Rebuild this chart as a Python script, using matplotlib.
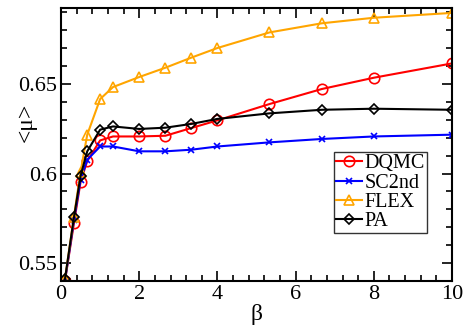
import numpy as np
import matplotlib.pyplot as plt
from matplotlib.ticker import MultipleLocator, FixedLocator, FixedFormatter

plt.rcParams['font.family'] = ['Liberation Serif', 'DejaVu Serif']
plt.rcParams['mathtext.fontset'] = 'stix'

# Data
beta = [0.1, 0.33, 0.5, 0.67, 1.0, 1.33, 2.0, 2.67, 3.33, 4.0, 5.33, 6.67, 8.0, 10.0]
dqmc = [0.540, 0.5723, 0.5954, 0.607, 0.6185, 0.6207, 0.6207, 0.6211, 0.6254, 0.6297,
        0.6388, 0.6472, 0.6535, 0.6615]
sc2nd = [0.540, 0.574, 0.5965, 0.6077, 0.6151, 0.6151, 0.6124, 0.6124, 0.6133, 0.6151,
         0.6174, 0.6193, 0.6207, 0.6217]
flex = [0.541, 0.576, 0.601, 0.6217, 0.6416, 0.6483, 0.6539, 0.6591, 0.6647, 0.6701,
        0.6788, 0.6839, 0.6870, 0.6897]
pa = [0.541, 0.5755, 0.5988, 0.6124, 0.6245, 0.6263, 0.6249, 0.6256, 0.6277, 0.6305,
      0.6336, 0.6356, 0.6362, 0.6356]

fig = plt.figure(figsize=(4.66, 3.29), dpi=100)
ax = fig.add_axes([0.131, 0.146, 0.839, 0.830])

ax.plot(beta, dqmc, '-o', color='red', mfc='none', ms=7.5, mew=1.2, lw=1.5, label='DQMC')
ax.plot(beta, sc2nd, '-x', color='blue', ms=5, mew=1.2, lw=1.5, label='SC2nd')
ax.plot(beta, flex, '-^', color='orange', mfc='none', ms=7, mew=1.2, lw=1.5, label='FLEX')
ax.plot(beta, pa, '-D', color='black', mfc='none', ms=5, mew=1.2, lw=1.5, label='PA')

ax.set_xlim(0, 10)
ax.set_ylim(0.54, 0.6925)
ax.xaxis.set_major_locator(MultipleLocator(2))
ax.xaxis.set_minor_locator(MultipleLocator(0.4))
ax.yaxis.set_major_locator(FixedLocator([0.55, 0.6, 0.65]))
ax.yaxis.set_major_formatter(FixedFormatter(['0.55', '0.6', '0.65']))
ax.yaxis.set_minor_locator(MultipleLocator(0.01))
ax.tick_params(which='both', direction='in', top=True, right=True, labelsize=16, width=1.2)
ax.tick_params(which='major', length=7, pad=3)
ax.tick_params(which='minor', length=4)
for s in ax.spines.values():
    s.set_linewidth(1.5)

ax.set_xlabel('β', fontsize=17, labelpad=0)
ax.set_ylabel('<μ>', fontsize=17)
ax.yaxis.set_label_coords(-0.062, 0.58)

leg = ax.legend(loc='upper left', bbox_to_anchor=(0.698, 0.4725), fontsize=14.5, frameon=True,
                fancybox=False, edgecolor='black', handlelength=1.25, handletextpad=0.15,
                borderpad=0.12, labelspacing=0.0, borderaxespad=0)
leg.get_frame().set_linewidth(1.0)

fig.savefig('out.png', dpi=100)
